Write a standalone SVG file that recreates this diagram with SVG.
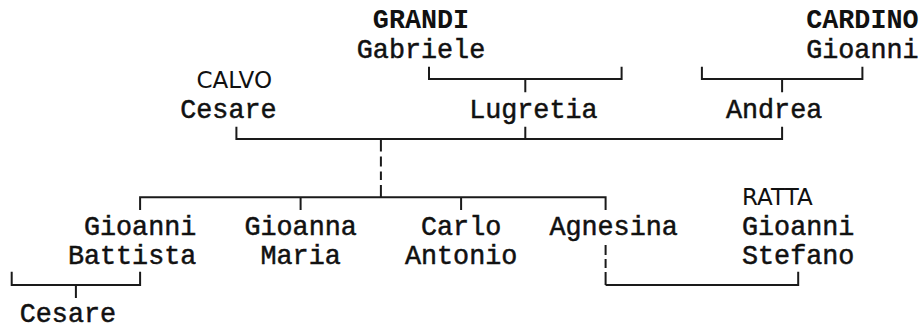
<svg xmlns="http://www.w3.org/2000/svg" width="920" height="329" viewBox="0 0 920 329">
<style>
.t{font-family:"Liberation Mono","DejaVu Sans Mono",monospace;font-size:26.75px;fill:#111;stroke:#111;stroke-width:0.5}
.b{font-family:"Liberation Mono","DejaVu Sans Mono",monospace;font-size:26.75px;font-weight:bold;fill:#111}
.s{font-family:"DejaVu Sans","Liberation Sans",sans-serif;font-size:23px;fill:#111}
.l{fill:none;stroke:#1a1a1a;stroke-width:2;stroke-linecap:butt}
.d1{stroke-dasharray:12.5 5 10 5 8.5 5 13}
.d2{stroke-dasharray:10 4 9 4 13}
</style>
<rect width="920" height="329" fill="#fff"/>
<g id="connectors">
<path class="l" d="M429 66.7V79H621.6V66.7M525.3 79V92.3"/>
<path class="l" d="M701.9 66.7V79H862.4V66.7M782.1 79V92.3"/>
<path class="l" d="M236.4 126.7V139H782.1V126.7M525.3 139V126.7"/>
<path class="l d1" d="M380.9 139V197.3"/>
<path class="l" d="M140.1 210V197.3H605.6V210M300.6 197.3V210M461.1 197.3V210"/>
<path class="l" d="M11.7 271.7V285H140.1V271.7M75.9 285V298"/>
<path class="l d2" d="M605.6 245V285"/>
<path class="l" d="M605.6 285H798.2V271.7"/>
</g>
<g id="grandi-gabriele"><text class="b" x="372.85" y="28.3">GRANDI</text><text class="t" x="356.8" y="58.3">Gabriele</text></g>
<g id="cardino-gioanni"><text class="b" x="806.2" y="28.3">CARDINO</text><text class="t" x="806.2" y="58.3">Gioanni</text></g>
<g id="calvo-cesare"><text class="s" x="196.5" y="88.3">CALVO</text><text class="t" x="180.25" y="118.3">Cesare</text></g>
<g id="lugretia"><text class="t" x="469.15" y="118.3">Lugretia</text></g>
<g id="andrea"><text class="t" x="725.95" y="118.3">Andrea</text></g>
<g id="gioanni-battista"><text class="t" x="83.95" y="235">Gioanni</text><text class="t" x="67.9" y="264">Battista</text></g>
<g id="gioanna-maria"><text class="t" x="244.45" y="235">Gioanna</text><text class="t" x="260.5" y="264">Maria</text></g>
<g id="carlo-antonio"><text class="t" x="421" y="235">Carlo</text><text class="t" x="404.95" y="264">Antonio</text></g>
<g id="agnesina"><text class="t" x="549.4" y="235">Agnesina</text></g>
<g id="ratta-gioanni-stefano"><text class="s" x="742" y="205">RATTA</text><text class="t" x="742" y="235">Gioanni</text><text class="t" x="742" y="264">Stefano</text></g>
<g id="cesare-child"><text class="t" x="19.75" y="322.3">Cesare</text></g>
</svg>
